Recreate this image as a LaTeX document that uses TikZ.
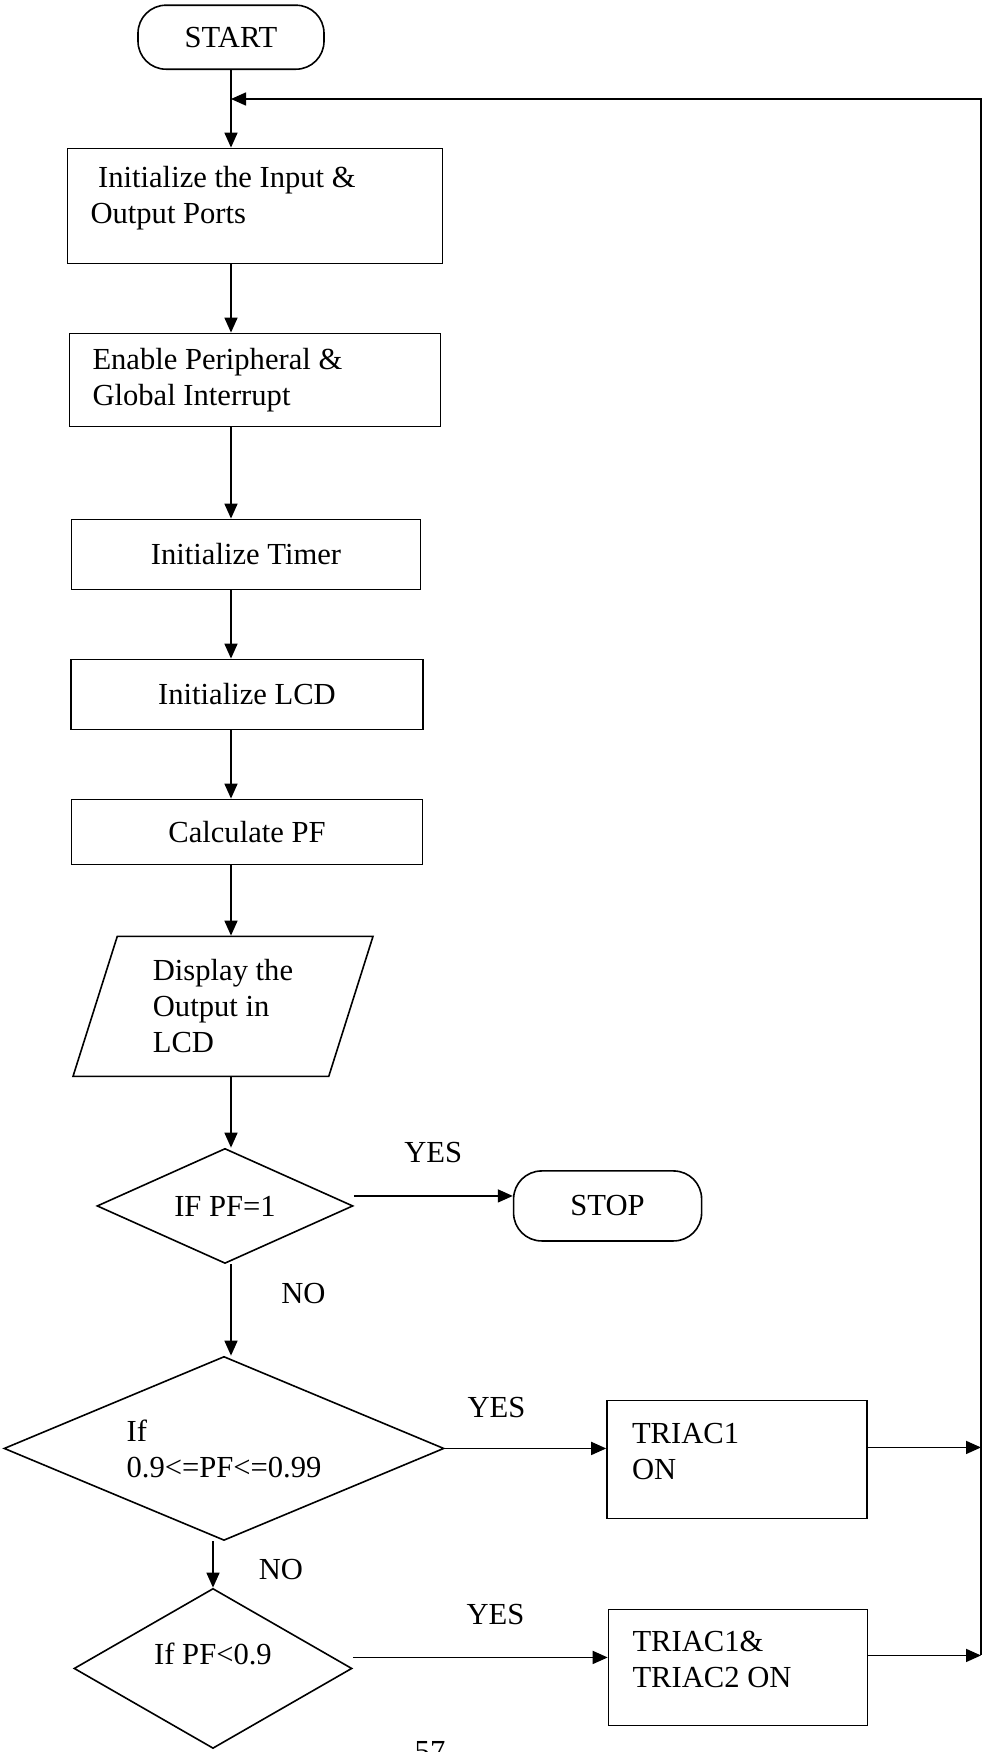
\documentclass[tikz,border=0pt]{standalone}
\usepackage{fontspec}
\setmainfont{Liberation Serif}
\usetikzlibrary{arrows.meta,positioning,shapes.geometric}

\begin{document}
\begin{tikzpicture}[font=\fontsize{15.3}{18}\selectfont,>={Triangle[length=7.5pt,width=6.5pt]},line width=0.8pt,
   term/.style={draw,rounded corners=14pt,minimum width=93pt,minimum height=32pt},
   proc/.style={draw,minimum height=35pt},
   procl/.style={draw,align=flush left,inner xsep=11.5pt},
   io/.style={draw,trapezium,trapezium left angle=67.5,trapezium right angle=112.5,trapezium stretches body,
     align=flush left,minimum width=150pt,minimum height=70pt},
   dec/.style={draw,diamond,inner sep=0pt,align=flush left},
   lbl/.style={inner sep=3pt}]
  \useasboundingbox (0,0) rectangle (498pt,-876pt);
  % main column
  \node[term] (start) at (115.5pt,-18.6pt) {START};
  \node[procl,text width=164.5pt,minimum height=57.5pt,below=38.8pt of start,xshift=12pt] (init)
     {\ Initialize the Input \&\\ Output Ports\\[-6.5pt]\mbox{}};
  \node[procl,text width=162.5pt,minimum height=46.5pt,below=34.2pt of init] (intr)
     {Enable Peripheral \&\\ Global Interrupt};
  \node[proc,minimum width=174.5pt,below=45.7pt of intr,xshift=-4.5pt] (tmr) {Initialize Timer};
  \node[proc,minimum width=176pt,below=34.2pt of tmr,xshift=0.5pt] (lcd) {Initialize LCD};
  \node[proc,minimum width=175.5pt,minimum height=32.5pt,below=34.2pt of lcd] (calc) {Calculate PF};
  \node[io,below=35.2pt of calc,xshift=-12pt] (disp) {Display the\\ Output in\\ LCD};
  \node[dec,aspect=2.23,minimum width=128pt,minimum height=57.5pt,below=35.2pt of disp,xshift=1pt] (pf1) {IF PF=1};
  \node[dec,aspect=2.39,minimum width=220pt,minimum height=92pt,below=45.7pt of pf1,xshift=-0.5pt] (pfr)
     {If\\ 0.9<=PF<=0.99};
  \node[dec,aspect=1.74,minimum width=139pt,minimum height=80pt,below=23.2pt of pfr,xshift=-5.5pt] (pfl)
     {If PF<0.9\\[-3pt]\mbox{}};
  % right hand side
  \node[term,minimum width=94pt,minimum height=35pt,right=79.5pt of pf1] (stop) {STOP};
  \node[procl,text width=105pt,inner xsep=12.5pt,minimum height=59pt,right=80.7pt of pfr,yshift=-5.5pt] (t1)
     {TRIAC1\\ ON\\[-10pt]\mbox{}};
  \node[procl,text width=105.5pt,inner xsep=12pt,minimum height=58pt,below=44.7pt of t1,xshift=0.5pt] (t12)
     {TRIAC1\&\\ TRIAC2 ON\\[-9.5pt]\mbox{}};
  \node (pgno) at (215pt,-876pt) {57};
  % connectors
  \draw[->] (start) -- (init.north -| start);
  \draw[->] (init.south -| start) -- (intr.north -| start);
  \draw[->] (intr.south -| start) -- (tmr.north -| start);
  \draw[->] (tmr.south -| start) -- (lcd.north -| start);
  \draw[->] (lcd.south -| start) -- (calc.north -| start);
  \draw[->] (calc.south -| start) -- (disp.north -| start);
  \draw[->] (disp.south -| start) -- (pf1.north -| start);
  \draw[->] (pf1.south -| start) -- node[lbl,right=21.75pt,pos=0.32]{NO} (pfr.north -| start);
  \draw[->] (pfr.south -| pfl.north) -- node[lbl,right=19.5pt,pos=0.6]{NO} (pfl.north);
  \draw[->] ([yshift=5pt]stop.west -| pf1.east) -- node[lbl,above=13pt]{YES} ([yshift=5pt]stop.west);
  \draw[->] (pfr.east) -- node[lbl,above=11.7pt,pos=0.32]{YES} (pfr.east -| t1.west);
  \draw[->] ([yshift=5pt]t12.west -| pfl.east) -- node[lbl,above=13pt,pos=0.56]{YES} ([yshift=5pt]t12.west);
  % loop back to the top
  \coordinate[below=14.5pt of start.south] (join);
  \coordinate[right=56.6pt of t1.east] (rail);
  \draw[->] ([yshift=6pt]t1.east) -- ([yshift=6pt]t1.east -| rail);
  \draw[->] ([yshift=6pt]t12.east) -- ([yshift=6pt]t12.east -| rail);
  \draw[->] ([yshift=6pt]t12.east -| rail) -- (rail |- join) -- (join);
\end{tikzpicture}
\end{document}
